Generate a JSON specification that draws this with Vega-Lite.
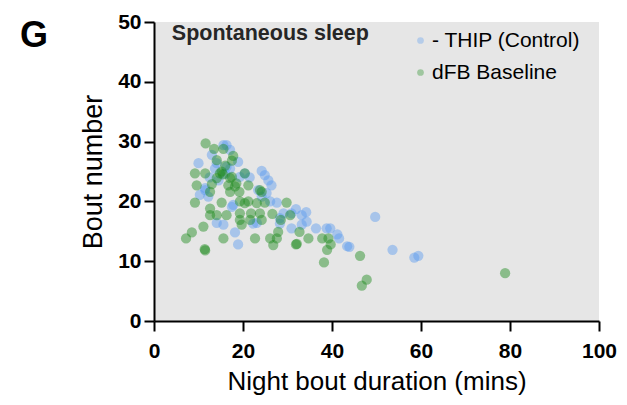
{
  "$schema": "https://vega.github.io/schema/vega-lite/v6.json",
  "width": 445,
  "height": 299,
  "autosize": "none",
  "padding": {"left": 154, "top": 22, "right": 28, "bottom": 84},
  "background": "white",
  "config": {
    "font": "Liberation Sans",
    "view": {"fill": "#e6e6e6", "stroke": null}
  },
  "datasets": {
    "pts": [
      {"group": "- THIP (Control)", "dur": 15.6, "n": 29.4},
      {"group": "- THIP (Control)", "dur": 16.3, "n": 29.4},
      {"group": "- THIP (Control)", "dur": 17.1, "n": 28.6},
      {"group": "- THIP (Control)", "dur": 13.0, "n": 27.8},
      {"group": "- THIP (Control)", "dur": 10.0, "n": 26.4},
      {"group": "- THIP (Control)", "dur": 14.1, "n": 26.4},
      {"group": "- THIP (Control)", "dur": 18.9, "n": 26.6},
      {"group": "- THIP (Control)", "dur": 13.7, "n": 25.5},
      {"group": "- THIP (Control)", "dur": 16.3, "n": 25.8},
      {"group": "- THIP (Control)", "dur": 17.1, "n": 25.5},
      {"group": "- THIP (Control)", "dur": 16.0, "n": 24.6},
      {"group": "- THIP (Control)", "dur": 19.3, "n": 24.1},
      {"group": "- THIP (Control)", "dur": 20.4, "n": 24.7},
      {"group": "- THIP (Control)", "dur": 21.5, "n": 24.0},
      {"group": "- THIP (Control)", "dur": 24.2, "n": 25.1},
      {"group": "- THIP (Control)", "dur": 24.9, "n": 24.4},
      {"group": "- THIP (Control)", "dur": 25.7, "n": 23.5},
      {"group": "- THIP (Control)", "dur": 26.4, "n": 22.7},
      {"group": "- THIP (Control)", "dur": 23.4, "n": 21.9},
      {"group": "- THIP (Control)", "dur": 25.3, "n": 21.4},
      {"group": "- THIP (Control)", "dur": 12.5, "n": 24.0},
      {"group": "- THIP (Control)", "dur": 14.5, "n": 23.5},
      {"group": "- THIP (Control)", "dur": 11.5, "n": 22.2},
      {"group": "- THIP (Control)", "dur": 11.5, "n": 21.9},
      {"group": "- THIP (Control)", "dur": 10.3, "n": 21.1},
      {"group": "- THIP (Control)", "dur": 12.2, "n": 20.8},
      {"group": "- THIP (Control)", "dur": 24.2, "n": 20.8},
      {"group": "- THIP (Control)", "dur": 17.8, "n": 19.4},
      {"group": "- THIP (Control)", "dur": 17.5, "n": 19.1},
      {"group": "- THIP (Control)", "dur": 26.1, "n": 20.0},
      {"group": "- THIP (Control)", "dur": 27.6, "n": 19.8},
      {"group": "- THIP (Control)", "dur": 29.1, "n": 18.0},
      {"group": "- THIP (Control)", "dur": 30.9, "n": 18.0},
      {"group": "- THIP (Control)", "dur": 31.9, "n": 18.7},
      {"group": "- THIP (Control)", "dur": 34.2, "n": 18.2},
      {"group": "- THIP (Control)", "dur": 33.2, "n": 17.7},
      {"group": "- THIP (Control)", "dur": 14.1, "n": 16.4},
      {"group": "- THIP (Control)", "dur": 15.6, "n": 16.1},
      {"group": "- THIP (Control)", "dur": 18.2, "n": 14.8},
      {"group": "- THIP (Control)", "dur": 18.9, "n": 12.8},
      {"group": "- THIP (Control)", "dur": 22.3, "n": 16.3},
      {"group": "- THIP (Control)", "dur": 23.1, "n": 16.4},
      {"group": "- THIP (Control)", "dur": 28.3, "n": 17.2},
      {"group": "- THIP (Control)", "dur": 28.3, "n": 16.3},
      {"group": "- THIP (Control)", "dur": 34.3, "n": 16.6},
      {"group": "- THIP (Control)", "dur": 33.2, "n": 16.1},
      {"group": "- THIP (Control)", "dur": 30.9, "n": 15.5},
      {"group": "- THIP (Control)", "dur": 36.4, "n": 15.5},
      {"group": "- THIP (Control)", "dur": 38.8, "n": 15.5},
      {"group": "- THIP (Control)", "dur": 39.6, "n": 15.5},
      {"group": "- THIP (Control)", "dur": 41.2, "n": 14.5},
      {"group": "- THIP (Control)", "dur": 41.6, "n": 13.8},
      {"group": "- THIP (Control)", "dur": 43.4, "n": 12.5},
      {"group": "- THIP (Control)", "dur": 43.9, "n": 12.4},
      {"group": "- THIP (Control)", "dur": 49.7, "n": 17.4},
      {"group": "- THIP (Control)", "dur": 53.6, "n": 11.9},
      {"group": "- THIP (Control)", "dur": 58.5, "n": 10.6},
      {"group": "- THIP (Control)", "dur": 59.4, "n": 10.9},
      {"group": "dFB Baseline", "dur": 11.6, "n": 29.7},
      {"group": "dFB Baseline", "dur": 13.5, "n": 28.8},
      {"group": "dFB Baseline", "dur": 15.6, "n": 28.8},
      {"group": "dFB Baseline", "dur": 14.1, "n": 26.9},
      {"group": "dFB Baseline", "dur": 17.8, "n": 27.6},
      {"group": "dFB Baseline", "dur": 17.5, "n": 26.8},
      {"group": "dFB Baseline", "dur": 16.0, "n": 26.0},
      {"group": "dFB Baseline", "dur": 9.2, "n": 24.7},
      {"group": "dFB Baseline", "dur": 11.5, "n": 24.7},
      {"group": "dFB Baseline", "dur": 15.2, "n": 25.0},
      {"group": "dFB Baseline", "dur": 14.8, "n": 24.7},
      {"group": "dFB Baseline", "dur": 15.5, "n": 24.5},
      {"group": "dFB Baseline", "dur": 20.4, "n": 24.7},
      {"group": "dFB Baseline", "dur": 14.1, "n": 23.9},
      {"group": "dFB Baseline", "dur": 17.1, "n": 23.9},
      {"group": "dFB Baseline", "dur": 17.5, "n": 24.1},
      {"group": "dFB Baseline", "dur": 9.6, "n": 22.7},
      {"group": "dFB Baseline", "dur": 13.0, "n": 22.9},
      {"group": "dFB Baseline", "dur": 16.7, "n": 22.7},
      {"group": "dFB Baseline", "dur": 18.2, "n": 22.5},
      {"group": "dFB Baseline", "dur": 18.5, "n": 23.0},
      {"group": "dFB Baseline", "dur": 21.2, "n": 22.7},
      {"group": "dFB Baseline", "dur": 12.6, "n": 21.6},
      {"group": "dFB Baseline", "dur": 17.1, "n": 21.6},
      {"group": "dFB Baseline", "dur": 19.2, "n": 21.6},
      {"group": "dFB Baseline", "dur": 23.8, "n": 21.9},
      {"group": "dFB Baseline", "dur": 24.2, "n": 21.6},
      {"group": "dFB Baseline", "dur": 9.2, "n": 19.8},
      {"group": "dFB Baseline", "dur": 15.2, "n": 19.8},
      {"group": "dFB Baseline", "dur": 19.3, "n": 20.0},
      {"group": "dFB Baseline", "dur": 20.4, "n": 19.7},
      {"group": "dFB Baseline", "dur": 21.2, "n": 20.0},
      {"group": "dFB Baseline", "dur": 23.1, "n": 19.7},
      {"group": "dFB Baseline", "dur": 24.9, "n": 19.8},
      {"group": "dFB Baseline", "dur": 29.8, "n": 19.8},
      {"group": "dFB Baseline", "dur": 12.6, "n": 18.8},
      {"group": "dFB Baseline", "dur": 12.6, "n": 17.7},
      {"group": "dFB Baseline", "dur": 14.1, "n": 17.7},
      {"group": "dFB Baseline", "dur": 16.3, "n": 17.7},
      {"group": "dFB Baseline", "dur": 19.3, "n": 18.0},
      {"group": "dFB Baseline", "dur": 21.8, "n": 18.0},
      {"group": "dFB Baseline", "dur": 23.8, "n": 18.0},
      {"group": "dFB Baseline", "dur": 26.6, "n": 17.9},
      {"group": "dFB Baseline", "dur": 30.6, "n": 17.7},
      {"group": "dFB Baseline", "dur": 19.3, "n": 16.9},
      {"group": "dFB Baseline", "dur": 21.6, "n": 16.9},
      {"group": "dFB Baseline", "dur": 24.2, "n": 16.9},
      {"group": "dFB Baseline", "dur": 28.5, "n": 16.9},
      {"group": "dFB Baseline", "dur": 19.7, "n": 16.1},
      {"group": "dFB Baseline", "dur": 11.1, "n": 15.8},
      {"group": "dFB Baseline", "dur": 8.5, "n": 14.8},
      {"group": "dFB Baseline", "dur": 7.2, "n": 13.8},
      {"group": "dFB Baseline", "dur": 15.6, "n": 13.8},
      {"group": "dFB Baseline", "dur": 22.7, "n": 13.8},
      {"group": "dFB Baseline", "dur": 26.1, "n": 13.8},
      {"group": "dFB Baseline", "dur": 27.6, "n": 13.8},
      {"group": "dFB Baseline", "dur": 27.9, "n": 14.9},
      {"group": "dFB Baseline", "dur": 32.7, "n": 14.9},
      {"group": "dFB Baseline", "dur": 34.7, "n": 13.8},
      {"group": "dFB Baseline", "dur": 37.8, "n": 13.8},
      {"group": "dFB Baseline", "dur": 39.2, "n": 13.8},
      {"group": "dFB Baseline", "dur": 26.8, "n": 12.7},
      {"group": "dFB Baseline", "dur": 32.1, "n": 12.9},
      {"group": "dFB Baseline", "dur": 31.9, "n": 12.8},
      {"group": "dFB Baseline", "dur": 39.7, "n": 12.8},
      {"group": "dFB Baseline", "dur": 38.9, "n": 11.9},
      {"group": "dFB Baseline", "dur": 38.2, "n": 9.8},
      {"group": "dFB Baseline", "dur": 46.3, "n": 10.9},
      {"group": "dFB Baseline", "dur": 47.8, "n": 6.9},
      {"group": "dFB Baseline", "dur": 46.7, "n": 5.9},
      {"group": "dFB Baseline", "dur": 78.9, "n": 8.0},
      {"group": "dFB Baseline", "dur": 11.5, "n": 11.8},
      {"group": "dFB Baseline", "dur": 11.4, "n": 12.0}
    ],
    "label": [{"t": "Spontaneous sleep", "x": 4, "y": 47}],
    "panel": [{"t": "G", "x": -30.1, "y": 45.8}]
  },
  "layer": [
    {
      "data": {"name": "pts"},
      "mark": {"type": "circle", "size": 105, "opacity": 0.45, "strokeWidth": 0},
      "encoding": {
        "x": {
          "field": "dur",
          "type": "quantitative",
          "scale": {"domain": [0, 100], "nice": false, "zero": false},
          "axis": {
            "title": "Night bout duration (mins)",
            "values": [0, 20, 40, 60, 80, 100],
            "grid": false,
            "domainColor": "black",
            "domainWidth": 2,
            "tickColor": "black",
            "tickWidth": 2,
            "tickSize": 10,
            "labelFont": "Liberation Sans",
            "labelFontSize": 21,
            "labelFontWeight": "bold",
            "labelColor": "black",
            "labelPadding": 9,
            "labelFlush": false,
            "titleFont": "Liberation Sans",
            "titleFontSize": 26,
            "titleFontWeight": "normal",
            "titleColor": "black",
            "titlePadding": 7
          }
        },
        "y": {
          "field": "n",
          "type": "quantitative",
          "scale": {"domain": [0, 50], "nice": false},
          "axis": {
            "title": "Bout number",
            "values": [0, 10, 20, 30, 40, 50],
            "grid": false,
            "domainColor": "black",
            "domainWidth": 2,
            "tickColor": "black",
            "tickWidth": 2,
            "tickSize": 10,
            "labelFont": "Liberation Sans",
            "labelFontSize": 21,
            "labelFontWeight": "bold",
            "labelColor": "black",
            "labelPadding": 3,
            "labelFlush": false,
            "titleFont": "Liberation Sans",
            "titleFontSize": 27,
            "titleFontWeight": "normal",
            "titleColor": "black",
            "titlePadding": 10
          }
        },
        "color": {
          "field": "group",
          "type": "nominal",
          "scale": {"domain": ["- THIP (Control)", "dFB Baseline"], "range": ["#5a9bef", "#1a8a1a"]},
          "legend": {
            "title": null,
            "orient": "none",
            "legendX": 256,
            "legendY": 8,
            "symbolType": "circle",
            "symbolSize": 45,
            "symbolOpacity": 0.35,
            "symbolStrokeWidth": 0,
            "labelFont": "Liberation Sans",
            "labelFontSize": 21,
            "labelColor": "black",
            "labelOffset": 1,
            "rowPadding": 10
          }
        }
      }
    },
    {
      "data": {"name": "label"},
      "mark": {"type": "text", "align": "left", "baseline": "alphabetic", "fontSize": 21.5, "fontWeight": "bold", "font": "Liberation Sans", "color": "#262626"},
      "encoding": {
        "x": {"field": "x", "type": "quantitative"},
        "y": {"field": "y", "type": "quantitative"},
        "text": {"field": "t"}
      }
    },
    {
      "data": {"name": "panel"},
      "mark": {"type": "text", "align": "left", "baseline": "alphabetic", "fontSize": 36, "fontWeight": "bold", "font": "Liberation Sans", "color": "black"},
      "encoding": {
        "x": {"field": "x", "type": "quantitative"},
        "y": {"field": "y", "type": "quantitative"},
        "text": {"field": "t"}
      }
    }
  ]
}
